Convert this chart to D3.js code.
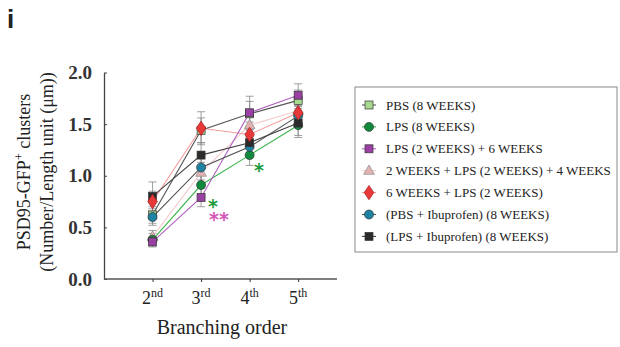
<!DOCTYPE html>
<html>
<head>
<meta charset="utf-8">
<script src="https://cdn.jsdelivr.net/npm/d3@7"></script>
<style>
  body { margin: 0; background: #fff; }
  #chart { width: 620px; height: 347px; }
  text { font-family: "Liberation Serif", "DejaVu Serif", serif; }
</style>
</head>
<body>
<div id="chart"></div>
<script>
var orders = [2, 3, 4, 5];
var orderLabels = [["2", "nd"], ["3", "rd"], ["4", "th"], ["5", "th"]];
var yTicks = [0, 0.5, 1.0, 1.5, 2.0];

var seriesNames = [
    "PBS (8 WEEKS)",
    "LPS (8 WEEKS)",
    "LPS (2 WEEKS) + 6 WEEKS",
    "2 WEEKS + LPS (2 WEEKS) + 4 WEEKS",
    "6 WEEKS + LPS (2 WEEKS)",
    "(PBS + Ibuprofen) (8 WEEKS)",
    "(LPS + Ibuprofen) (8 WEEKS)"
];
var pbsVals   = [0.62, 1.44, 1.60, 1.73];
var lpsVals   = [0.38, 0.91, 1.20, 1.49];
var lps26Vals = [0.36, 0.79, 1.61, 1.78];
var triVals   = [0.41, 1.03, 1.49, 1.63];
var lps6Vals  = [0.75, 1.46, 1.40, 1.61];
var pbsIbVals = [0.60, 1.08, 1.28, 1.58];
var lpsIbVals = [0.80, 1.20, 1.32, 1.51];

var pbsErr   = [0.08, 0.12, 0.12, 0.10];
var lpsErr   = [0.06, 0.10, 0.10, 0.10];
var lps26Err = [0.05, 0.09, 0.16, 0.11];
var triErr   = [0.06, 0.10, 0.12, 0.10];
var lps6Err  = [0.10, 0.16, 0.12, 0.10];
var pbsIbErr = [0.08, 0.12, 0.10, 0.10];
var lpsIbErr = [0.14, 0.12, 0.12, 0.14];

var allVals = [pbsVals, lpsVals, lps26Vals, triVals, lps6Vals, pbsIbVals, lpsIbVals];
var allErr = [pbsErr, lpsErr, lps26Err, triErr, lps6Err, pbsIbErr, lpsIbErr];
var fills = ["#a8d98e", "#0f8a3c", "#9a3fa3", "#e3b3b3", "#e8393a", "#1e83a3", "#2b2b2b"];
var lineColors = ["#555555", "#3cb44b", "#b060c0", "#f3cccc", "#f49a9a", "#505050", "#444444"];
var shapes = ["square", "circle", "square", "triangle", "diamond", "circle", "square"];

var width = 620, height = 347;
var svg = d3.select("#chart").append("svg")
    .attr("width", width)
    .attr("height", height);

var x = d3.scaleLinear().domain([1, 5.8]).range([104, 337]);
var y = d3.scaleLinear().domain([0, 2]).range([279, 72.5]);

// panel letter
svg.append("text")
    .attr("x", 7).attr("y", 28)
    .style("font-family", "Liberation Sans, Arial, sans-serif")
    .style("font-weight", "bold")
    .style("font-size", "26px")
    .style("fill", "#222")
    .text("i");

// axes
var yAxis = svg.append("g")
    .attr("transform", "translate(" + x(1) + ",0)")
    .call(d3.axisLeft(y).tickValues(yTicks).tickSize(0).tickPadding(12).tickFormat(d3.format(".1f")));
yAxis.select(".domain").attr("stroke", "#444").attr("stroke-width", 1.3);
yAxis.selectAll("text")
    .style("font-size", "19px")
    .style("font-weight", "bold")
    .style("font-family", "Liberation Serif, serif")
    .style("fill", "#333");
yAxis.selectAll(".tick").append("line")
    .attr("x1", 0).attr("x2", 3)
    .attr("stroke", "#444");

var xAxis = svg.append("g")
    .attr("transform", "translate(0," + y(0) + ")")
    .call(d3.axisBottom(x).tickValues(orders).tickSize(3).tickFormat(""));
xAxis.select(".domain").attr("stroke", "#555").attr("stroke-width", 1.3).attr("d", "M" + x(1) + ",0H" + x(5.8));
xAxis.selectAll(".tick line").attr("stroke", "#333");

var xLab = svg.selectAll(".xlab")
    .data(orders)
    .enter().append("text")
    .attr("class", "xlab")
    .attr("x", function(d) { return x(d); })
    .attr("y", 304)
    .attr("text-anchor", "middle")
    .style("font-size", "18px")
    .style("fill", "#222");
xLab.append("tspan").text(function(d, i) { return orderLabels[i][0]; });
xLab.append("tspan").attr("dy", -7).style("font-size", "12px").text(function(d, i) { return orderLabels[i][1]; });

svg.append("text")
    .attr("x", 222).attr("y", 334)
    .attr("text-anchor", "middle")
    .style("font-size", "20px")
    .style("fill", "#222")
    .text("Branching order");

// y label
var yl = svg.append("g").attr("transform", "translate(0,172) rotate(-90)");
var l1 = yl.append("text").attr("x", 0).attr("y", 30).attr("text-anchor", "middle")
    .style("font-size", "18px").style("fill", "#222");
l1.append("tspan").text("PSD95-GFP");
l1.append("tspan").attr("dy", -7).style("font-size", "12px").text("+");
l1.append("tspan").attr("dy", 7).text(" clusters");
yl.append("text").attr("x", 0).attr("y", 53).attr("text-anchor", "middle")
    .style("font-size", "18px").style("fill", "#222")
    .text("(Number/Length unit (\u03bcm))");

function drawMarker(g, shape, fill, cx, cy) {
    var st = "#333";
    if (shape === "square") {
        g.append("rect").attr("x", cx - 4).attr("y", cy - 4).attr("width", 8).attr("height", 8)
            .attr("fill", fill).attr("stroke", st).attr("stroke-width", 0.7);
    } else if (shape === "circle") {
        g.append("circle").attr("cx", cx).attr("cy", cy).attr("r", 4.5)
            .attr("fill", fill).attr("stroke", st).attr("stroke-width", 0.7);
    } else if (shape === "triangle") {
        g.append("path").attr("d", d3.symbol().type(d3.symbolTriangle).size(50)())
            .attr("transform", "translate(" + cx + "," + (cy + 0.5) + ")")
            .attr("fill", fill).attr("stroke", "#888").attr("stroke-width", 0.7);
    } else {
        g.append("path").attr("d", d3.symbol().type(d3.symbolDiamond).size(60)())
            .attr("transform", "translate(" + cx + "," + cy + ") scale(1.15,1)")
            .attr("fill", fill).attr("stroke", "#a22").attr("stroke-width", 0.7);
    }
}

var line = d3.line()
    .x(function(d, i) { return x(orders[i]); })
    .y(function(d) { return y(d); });

// error bars
allVals.forEach(function(vals, s) {
    var g = svg.append("g");
    vals.forEach(function(v, i) {
        var cx = x(orders[i]);
        var e = allErr[s][i];
        g.append("line").attr("x1", cx).attr("x2", cx).attr("y1", y(v - e)).attr("y2", y(v + e))
            .attr("stroke", "#888").attr("stroke-width", 0.8);
        [v - e, v + e].forEach(function(c) {
            g.append("line").attr("x1", cx - 4).attr("x2", cx + 4).attr("y1", y(c)).attr("y2", y(c))
                .attr("stroke", "#888").attr("stroke-width", 0.8);
        });
    });
});

// lines
var drawOrder = [3, 4, 0, 1, 2, 5, 6];
drawOrder.forEach(function(s) {
    svg.append("path")
        .datum(allVals[s])
        .attr("d", line)
        .attr("fill", "none")
        .attr("stroke", lineColors[s])
        .attr("stroke-width", 1.1);
});

// markers
[0, 3, 1, 5, 6, 4, 2].forEach(function(s) {
    var g = svg.append("g");
    allVals[s].forEach(function(v, i) {
        drawMarker(g, shapes[s], fills[s], x(orders[i]), y(v));
    });
});

// significance stars
function star(cx, cy, txt, color) {
    svg.append("text").attr("x", cx).attr("y", cy + 9).attr("text-anchor", "middle")
        .style("font-size", "19px").style("font-weight", "bold").style("fill", color)
        .style("font-family", "DejaVu Sans, sans-serif").text(txt);
}
star(213, 204, "*", "#1a9a3a");
star(219, 217, "**", "#d455b8");
star(259, 168, "*", "#1a9a3a");

// legend
var legend = svg.append("g");
legend.append("rect")
    .attr("x", 355).attr("y", 87).attr("width", 262).attr("height", 165)
    .attr("fill", "#fff").attr("stroke", "#888").attr("stroke-width", 1);
seriesNames.forEach(function(name, s) {
    var ly = 105 + s * 21.9;
    var g = legend.append("g");
    g.append("line").attr("x1", 362).attr("x2", 376).attr("y1", ly).attr("y2", ly)
        .attr("stroke", lineColors[s]).attr("stroke-width", 1.1);
    drawMarker(g, shapes[s], fills[s], 369, ly);
    g.append("text").attr("x", 386).attr("y", ly + 4.5)
        .style("font-size", "13px")
        .style("fill", "#222")
        .text(name);
});
</script>
</body>
</html>
